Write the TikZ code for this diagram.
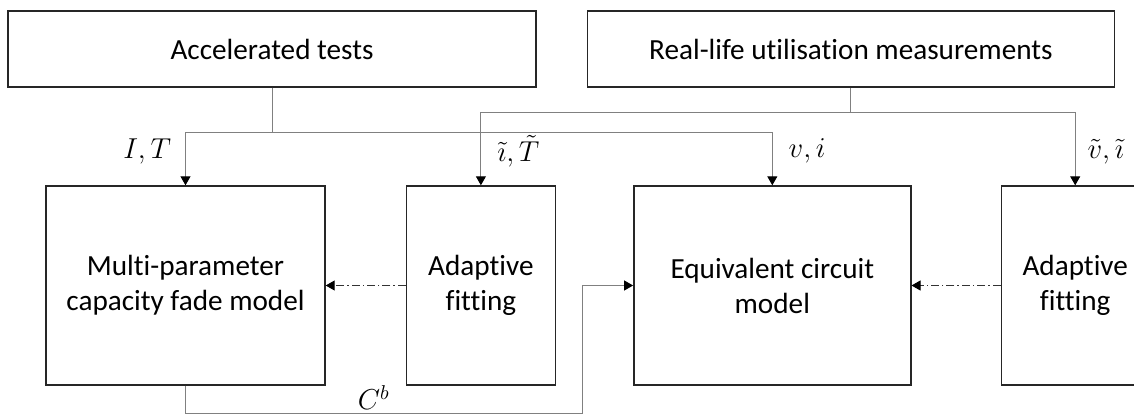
\documentclass[tikz,border=0pt]{standalone}
\usepackage{fontspec}
\setmainfont{Carlito}[Ligatures=NoCommon]
\usetikzlibrary{positioning, arrows.meta}
\tikzset{
  every node/.style={font=\fontsize{14.6pt}{17.5pt}\selectfont},
  source/.style={draw=black!85, line width=0.7pt, minimum height=38pt, align=center},
  block/.style={draw=black!85, line width=0.7pt, minimum height=99.5pt, align=center},
  feed/.style={draw=black!50, line width=0.5pt, -{Triangle[width=5pt, length=4.5pt, color=black]}},
  adapt/.style={draw=black!80, line width=0.5pt, dash pattern=on 4pt off 1.5pt on 0.7pt off 1.5pt,
    -{Triangle[width=5pt, length=4.5pt, color=black]}},
  lbl/.style={inner sep=0pt},
}

\begin{document}
\begin{tikzpicture}
		% fixed frame, the last block runs off the right edge
		\path[use as bounding box, clip] (0,0) rectangle (567pt,-207.5pt);

		% data sources
		\node[source, minimum width=264pt] (acc) at (136pt,-24.5pt) {Accelerated tests};
		\node[source, minimum width=263.5pt, right=25pt of acc] (real) {Real-life utilisation measurements};

		% models and fitting blocks
		\node[block, minimum width=139.5pt] (cfm) at (92.75pt,-142.75pt) {Multi-parameter\\capacity fade model};
		\node[block, minimum width=74.5pt, right=40pt of cfm] (fitc) {Adaptive\\fitting};
		\node[block, minimum width=138.5pt, right=38.5pt of fitc] (ecm) {Equivalent circuit\\model};
		\node[block, minimum width=74pt, right=44.5pt of ecm] (fite) {Adaptive\\fitting};

		% branch points
		\coordinate (accj) at ([yshift=-22.5pt]acc.south);
		\coordinate (realj) at ([yshift=-12.5pt]real.south);
		\coordinate (cbj) at ([yshift=-14pt]cfm.south);

		% measured inputs
		\draw[feed] (acc.south) -- (accj) -| (cfm.north);
		\draw[feed] (accj) -| (ecm.north);
		\draw[feed] (real.south) -- (realj) -| (fitc.north);
		\draw[feed] (realj) -| (fite.north);

		\node[lbl, anchor=east] (it) at ([xshift=-7pt, yshift=17pt]cfm.north) {$I, T$};
		\node[lbl, anchor=west] (itt) at ([xshift=8pt, yshift=17pt]fitc.north) {$\tilde{\imath}, \tilde{T}$};
		\node[lbl, anchor=west] (vi) at ([xshift=8pt, yshift=17pt]ecm.north) {$v, i$};
		\node[lbl, anchor=west] (vit) at ([xshift=6pt, yshift=17pt]fite.north) {$\tilde{v}, \tilde{\imath}$};

		% parameter updates
		\draw[adapt] (fitc.west) -- (cfm.east);
		\draw[adapt] (fite.west) -- (ecm.east);

		% capacity passed to the circuit model
		\draw[feed] (cfm.south) -- (cbj) -| ([xshift=-25.5pt]ecm.west) -- (ecm.west);
		\node[lbl] (cb) at ([xshift=-16pt, yshift=-6pt]fitc.south west) {$C^b$};

	\end{tikzpicture}
\end{document}
